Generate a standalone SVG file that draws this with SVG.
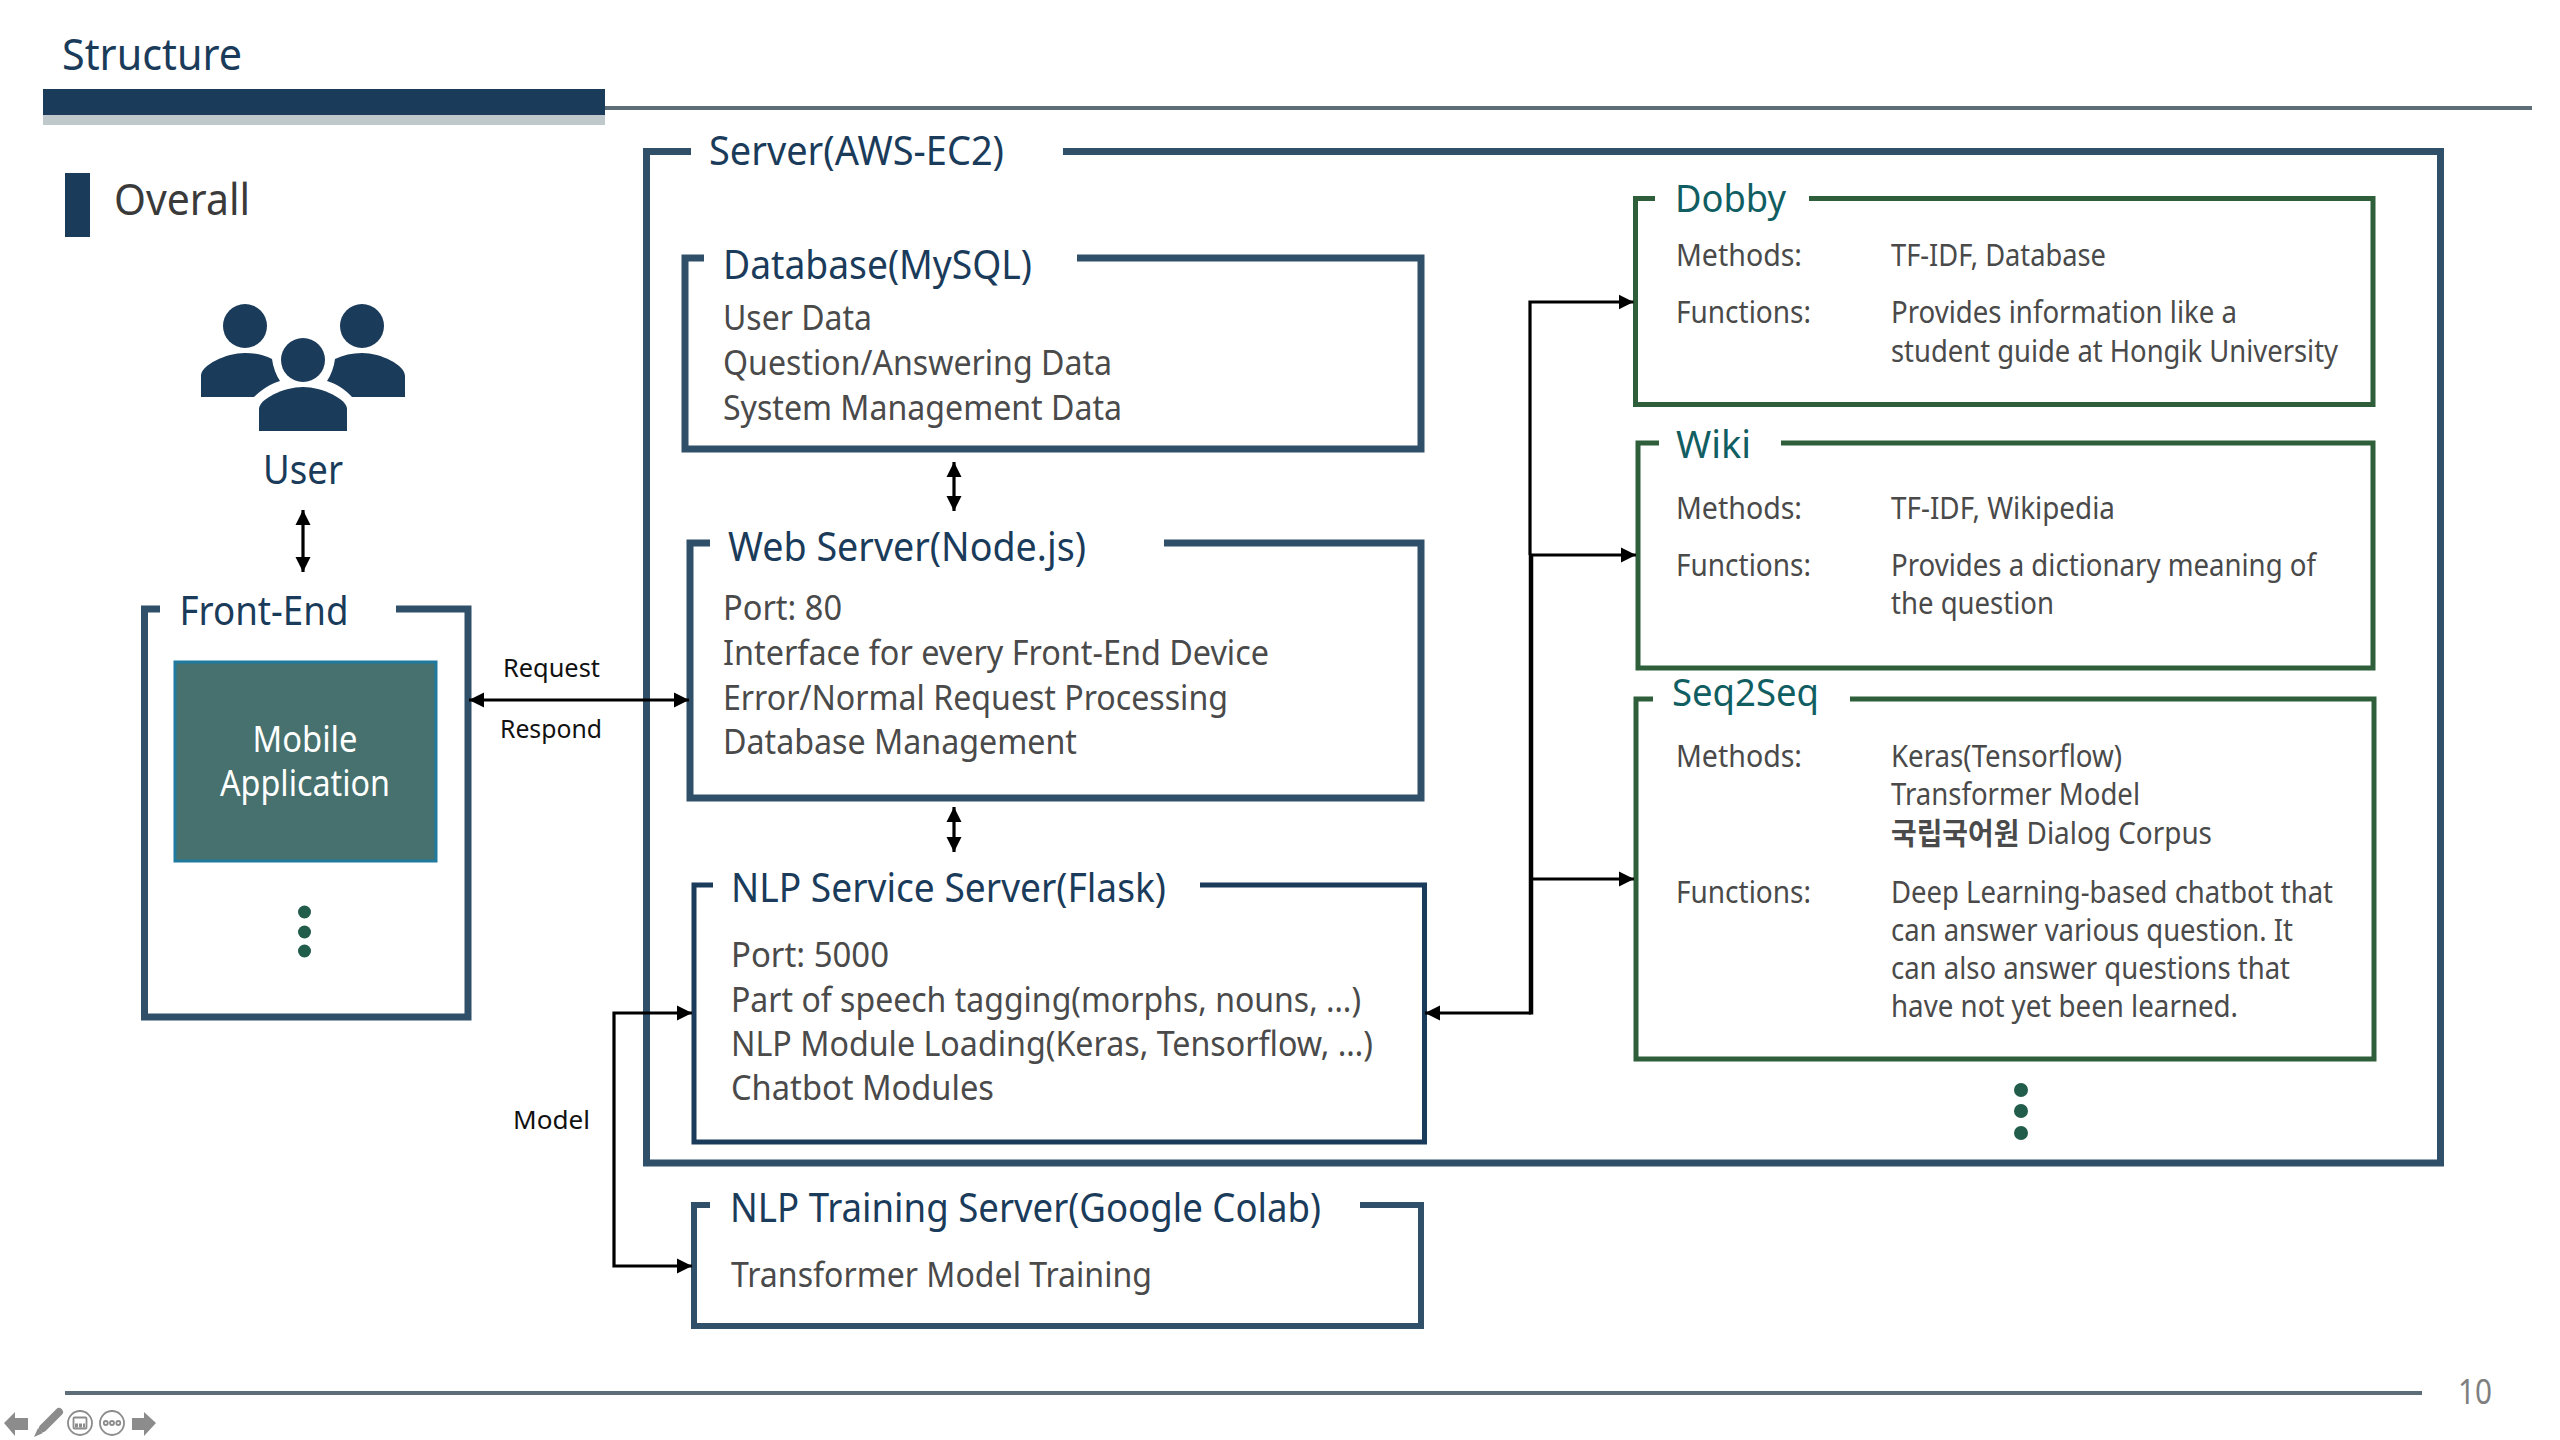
<svg xmlns="http://www.w3.org/2000/svg" width="2560" height="1440" viewBox="0 0 2560 1440">
<defs>
<marker id="ah" viewBox="0 0 10 10" refX="10" refY="5" markerWidth="15" markerHeight="16" markerUnits="userSpaceOnUse" orient="auto-start-reverse"><path d="M0 0L10 5L0 10Z" fill="#000"/></marker>
</defs>
<style>
text{font-family:"Noto Sans","Noto Sans CJK KR",sans-serif}
.box{fill:none;stroke:#2F5068;stroke-width:7}
.nlp{fill:none;stroke:#1A3B5A;stroke-width:5}
.grn{fill:none;stroke:#2F5F3A;stroke-width:5}
.h{font-size:40px;fill:#1A3B5A}
.gh{font-size:38px;fill:#115E62}
.b{font-size:35px;fill:#4A4A4A}
.r{font-size:30px;fill:#4A4A4A}
.l{font-size:26px;fill:#111}
.cn{fill:none;stroke:#000;stroke-width:3.2}
.dot{fill:#225C4A}
.ic{fill:#8C8C8C}
.ico{fill:none;stroke:#8C8C8C;stroke-width:1.800}
</style>
<rect width="2560" height="1440" fill="#fff"/>
<g id="header">
<path d="M605 108H2532" stroke="#5E6E78" stroke-width="4" fill="none"/>
<rect x="43" y="89" width="562" height="26" fill="#1A3B5A"/>
<rect x="43" y="115" width="562" height="10" fill="#BFC8CB"/>
<text x="62" y="70" font-size="44" fill="#1A3B5A" textLength="180" lengthAdjust="spacingAndGlyphs">Structure</text>
<rect x="65" y="173" width="25" height="64" fill="#1A3B5A"/>
<text x="114" y="215" font-size="44" fill="#3A3A3A" textLength="136" lengthAdjust="spacingAndGlyphs">Overall</text>
</g>
<g id="user">
<circle cx="245" cy="326" r="22" fill="#1A3B5A"/>
<circle cx="362" cy="326" r="22" fill="#1A3B5A"/>
<circle cx="303" cy="360" r="22" fill="#1A3B5A"/>
<path d="M201 397V376C201 365 226 353 245 353C255 353 264 355 272 359C273 367 276 375 280 381C270 384 261 390 254 397Z" fill="#1A3B5A"/>
<path d="M405 397V376C405 365 381 353 362 353C352 353 343 355 335 359C334 367 331 375 327 381C337 384 346 390 352 397Z" fill="#1A3B5A"/>
<path d="M259 431V409C259 399 284 387 303 387C322 387 347 399 347 409V431Z" fill="#1A3B5A"/>
<text x="263" y="484" class="h" textLength="80" lengthAdjust="spacingAndGlyphs">User</text>
</g>
<g id="front-end">
<path class="box" d="M160 609H144.500V1017H468V609H396"/>
<text x="179.500" y="625" class="h" textLength="169" lengthAdjust="spacingAndGlyphs">Front-End</text>
<rect x="175" y="662" width="261" height="199" fill="#46716E" stroke="#1F7A9E" stroke-width="3"/>
<text x="305" y="752" font-size="36" fill="#fff" text-anchor="middle" textLength="105" lengthAdjust="spacingAndGlyphs">Mobile</text>
<text x="305" y="796" font-size="36" fill="#fff" text-anchor="middle" textLength="170" lengthAdjust="spacingAndGlyphs">Application</text>
<circle class="dot" cx="304.500" cy="912" r="6.500"/><circle class="dot" cx="304.500" cy="932" r="6.500"/><circle class="dot" cx="304.500" cy="951" r="6.500"/>
</g>
<g id="server">
<path class="box" d="M691 151.500H646.500V1163H2440.500V151.500H1063"/>
<text x="709" y="165" class="h" textLength="295" lengthAdjust="spacingAndGlyphs">Server(AWS-EC2)</text>
</g>
<g id="database">
<path class="box" d="M704 258H685V449H1421V258H1077"/>
<text x="723" y="279" class="h" textLength="309" lengthAdjust="spacingAndGlyphs">Database(MySQL)</text>
<text x="723" y="330" class="b" textLength="149" lengthAdjust="spacingAndGlyphs">User Data</text>
<text x="723" y="375" class="b" textLength="389" lengthAdjust="spacingAndGlyphs">Question/Answering Data</text>
<text x="723" y="420" class="b" textLength="399" lengthAdjust="spacingAndGlyphs">System Management Data</text>
</g>
<g id="web-server">
<path class="box" d="M710 543H690V798H1421V543H1164"/>
<text x="728" y="561" class="h" textLength="358" lengthAdjust="spacingAndGlyphs">Web Server(Node.js)</text>
<text x="723" y="620" class="b" textLength="119" lengthAdjust="spacingAndGlyphs">Port: 80</text>
<text x="723" y="665" class="b" textLength="546" lengthAdjust="spacingAndGlyphs">Interface for every Front-End Device</text>
<text x="723" y="710" class="b" textLength="505" lengthAdjust="spacingAndGlyphs">Error/Normal Request Processing</text>
<text x="723" y="754" class="b" textLength="354" lengthAdjust="spacingAndGlyphs">Database Management</text>
</g>
<g id="nlp-service">
<path class="nlp" d="M713 885H694V1142H1424.500V885H1200"/>
<text x="731" y="902" class="h" textLength="435" lengthAdjust="spacingAndGlyphs">NLP Service Server(Flask)</text>
<text x="731" y="967" class="b" textLength="158" lengthAdjust="spacingAndGlyphs">Port: 5000</text>
<text x="731" y="1012" class="b" textLength="630" lengthAdjust="spacingAndGlyphs">Part of speech tagging(morphs, nouns, …)</text>
<text x="731" y="1056" class="b" textLength="642" lengthAdjust="spacingAndGlyphs">NLP Module Loading(Keras, Tensorflow, …)</text>
<text x="731" y="1100" class="b" textLength="263" lengthAdjust="spacingAndGlyphs">Chatbot Modules</text>
</g>
<g id="nlp-training">
<path class="box" d="M710 1205H694V1326H1421V1205H1360" style="stroke-width:6"/>
<text x="730" y="1222" class="h" textLength="591" lengthAdjust="spacingAndGlyphs">NLP Training Server(Google Colab)</text>
<text x="731" y="1287" class="b" textLength="421" lengthAdjust="spacingAndGlyphs">Transformer Model Training</text>
</g>
<g id="dobby">
<path class="grn" d="M1655 198.500H1635.500V404.500H2373V198.500H1809"/>
<text x="1675" y="212" class="gh" textLength="111" lengthAdjust="spacingAndGlyphs">Dobby</text>
<text x="1676" y="266" class="r" textLength="126" lengthAdjust="spacingAndGlyphs">Methods:</text>
<text x="1891" y="266" class="r" textLength="215" lengthAdjust="spacingAndGlyphs">TF-IDF, Database</text>
<text x="1676" y="323" class="r" textLength="135" lengthAdjust="spacingAndGlyphs">Functions:</text>
<text x="1891" y="323" class="r" textLength="346" lengthAdjust="spacingAndGlyphs">Provides information like a</text>
<text x="1891" y="362" class="r" textLength="447" lengthAdjust="spacingAndGlyphs">student guide at Hongik University</text>
</g>
<g id="wiki">
<path class="grn" d="M1659 443H1638V668H2373V443H1781"/>
<text x="1676" y="458" class="gh" textLength="75" lengthAdjust="spacingAndGlyphs">Wiki</text>
<text x="1676" y="519" class="r" textLength="126" lengthAdjust="spacingAndGlyphs">Methods:</text>
<text x="1891" y="519" class="r" textLength="224" lengthAdjust="spacingAndGlyphs">TF-IDF, Wikipedia</text>
<text x="1676" y="576" class="r" textLength="135" lengthAdjust="spacingAndGlyphs">Functions:</text>
<text x="1891" y="576" class="r" textLength="425" lengthAdjust="spacingAndGlyphs">Provides a dictionary meaning of</text>
<text x="1891" y="614" class="r" textLength="163" lengthAdjust="spacingAndGlyphs">the question</text>
</g>
<g id="seq2seq">
<path class="grn" d="M1653 699H1636V1059H2374V699H1850"/>
<text x="1672" y="706" class="gh" textLength="147" lengthAdjust="spacingAndGlyphs">Seq2Seq</text>
<text x="1676" y="767" class="r" textLength="126" lengthAdjust="spacingAndGlyphs">Methods:</text>
<text x="1891" y="767" class="r" textLength="231" lengthAdjust="spacingAndGlyphs">Keras(Tensorflow)</text>
<text x="1891" y="805" class="r" textLength="249" lengthAdjust="spacingAndGlyphs">Transformer Model</text>
<text x="1891" y="844" class="r" textLength="321" lengthAdjust="spacingAndGlyphs"><tspan font-weight="700">국립국어원</tspan> Dialog Corpus</text>
<text x="1676" y="903" class="r" textLength="135" lengthAdjust="spacingAndGlyphs">Functions:</text>
<text x="1891" y="903" class="r" textLength="442" lengthAdjust="spacingAndGlyphs">Deep Learning-based chatbot that</text>
<text x="1891" y="941" class="r" textLength="402" lengthAdjust="spacingAndGlyphs">can answer various question. It</text>
<text x="1891" y="979" class="r" textLength="399" lengthAdjust="spacingAndGlyphs">can also answer questions that</text>
<text x="1891" y="1017" class="r" textLength="347" lengthAdjust="spacingAndGlyphs">have not yet been learned.</text>
<circle class="dot" cx="2021" cy="1090" r="7"/><circle class="dot" cx="2021" cy="1111" r="7"/><circle class="dot" cx="2021" cy="1133" r="7"/>
</g>
<g id="connectors">
<path class="cn" d="M303 510V572" marker-start="url(#ah)" marker-end="url(#ah)"/>
<path class="cn" d="M469 700H689" marker-start="url(#ah)" marker-end="url(#ah)"/>
<path class="cn" d="M954 462V511" marker-start="url(#ah)" marker-end="url(#ah)"/>
<path class="cn" d="M954 807V852" marker-start="url(#ah)" marker-end="url(#ah)"/>
<path class="cn" d="M692 1013H614V1266H692" marker-start="url(#ah)" marker-end="url(#ah)"/>
<path class="cn" d="M1425 1013H1531" marker-start="url(#ah)"/>
<path class="cn" d="M1531 1014.500V555" style="stroke-width:4.500"/>
<path class="cn" d="M1530 555V302H1633.500" marker-end="url(#ah)"/>
<path class="cn" d="M1531 555H1636" marker-end="url(#ah)"/>
<path class="cn" d="M1531 879H1634" marker-end="url(#ah)"/>
<text x="503" y="677" class="l" textLength="97" lengthAdjust="spacingAndGlyphs">Request</text>
<text x="500" y="738" class="l" textLength="102" lengthAdjust="spacingAndGlyphs">Respond</text>
<text x="513" y="1129" class="l" textLength="77" lengthAdjust="spacingAndGlyphs">Model</text>
</g>
<g id="footer">
<path d="M65 1393H2422" stroke="#5E6E78" stroke-width="4" fill="none"/>
<text x="2458" y="1404" font-size="34" fill="#7F7F7F" textLength="34" lengthAdjust="spacingAndGlyphs">10</text>
<path class="ic" d="M4 1423L15 1412V1418H28V1430H15V1436Z"/>
<path class="ic" d="M34 1437L38 1428L43 1433Z"/>
<path d="M43 1428L59 1412" stroke="#8C8C8C" stroke-width="8" stroke-linecap="round" fill="none"/>
<circle class="ico" cx="80" cy="1423" r="12"/><rect class="ico" x="73.500" y="1417.500" width="13" height="11" rx="1"/><path class="ico" d="M75 1424.500H85M75 1426.500H85" stroke-dasharray="3 1"/>
<circle class="ico" cx="112" cy="1423" r="12"/><circle class="ico" cx="105.800" cy="1423" r="2"/><circle class="ico" cx="112" cy="1423" r="2"/><circle class="ico" cx="118.300" cy="1423" r="2"/>
<path class="ic" d="M156 1423L144 1412V1418H132V1430H144V1436Z"/>
</g>
</svg>
